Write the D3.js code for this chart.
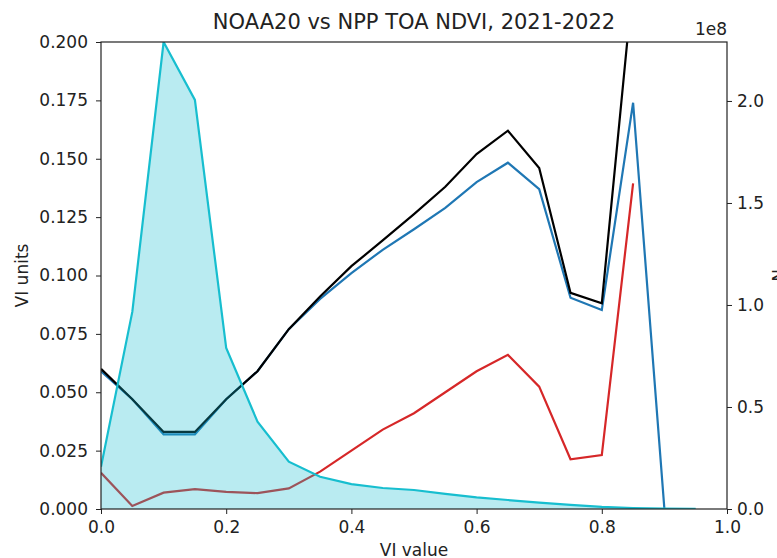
<!DOCTYPE html>
<html lang="en">
<head>
  <meta charset="UTF-8">
  <title>NOAA20 vs NPP TOA NDVI</title>
  <style>
    body { margin: 0; background: #fff; font-family: "DejaVu Sans", sans-serif; }
    svg { display: block; }
  </style>
  <script src="https://d3js.org/d3.v7.min.js"></script>
</head>
<body>
  <div id="chart"></div>
  <script>
    // bin centres
    const viBins = [0, 0.05, 0.1, 0.15, 0.2, 0.25, 0.3, 0.35, 0.4, 0.45,
                    0.5, 0.55, 0.6, 0.65, 0.7, 0.75, 0.8, 0.85, 0.9, 0.95];
    // left axis series (VI units)
    const blueVals  = [0.059, 0.047, 0.032, 0.032, 0.047, 0.059, 0.077, 0.090, 0.101, 0.111,
                       0.1198, 0.129, 0.140, 0.1483, 0.137, 0.0905, 0.0852, 0.174, 0.0];
    const blackVals = [0.060, 0.047, 0.033, 0.033, 0.047, 0.059, 0.077, 0.091, 0.104, 0.115,
                       0.1263, 0.138, 0.152, 0.162, 0.146, 0.0926, 0.0881, 0.226];
    const redVals   = [0.0155, 0.0013, 0.007, 0.0085, 0.0073, 0.0068, 0.0088, 0.016, 0.025, 0.034,
                       0.041, 0.050, 0.059, 0.066, 0.0524, 0.0213, 0.0231, 0.1395];
    // right axis: counts (x1e8)
    const countVals = [0.207, 0.966, 2.289, 2.005, 0.789, 0.428, 0.232, 0.158, 0.122, 0.103,
                       0.093, 0.074, 0.057, 0.044, 0.031, 0.02, 0.01, 0.005, 0.002, 0.001];

    const xTicks = [0, 0.2, 0.4, 0.6, 0.8, 1.0];
    const yTicks = [0, 0.025, 0.05, 0.075, 0.1, 0.125, 0.15, 0.175, 0.2];
    const y2Ticks = [0, 0.5, 1.0, 1.5, 2.0];

    const width = 777, height = 558;
    const margin = {top: 42, right: 50, bottom: 49, left: 101};
    const fs = 17;

    const x = d3.scaleLinear().domain([0, 1]).range([margin.left, width - margin.right]);
    const y = d3.scaleLinear().domain([0, 0.2]).range([height - margin.bottom, margin.top]);
    const y2 = d3.scaleLinear().domain([0, 2.289]).range([height - margin.bottom, margin.top]);

    const svg = d3.select("#chart").append("svg")
        .attr("width", width)
        .attr("height", height)
        .style("font-family", "'DejaVu Sans', sans-serif");

    svg.append("defs").append("clipPath").attr("id", "clip")
      .append("rect")
        .attr("x", margin.left).attr("y", margin.top)
        .attr("width", width - margin.left - margin.right)
        .attr("height", height - margin.top - margin.bottom);

    const plot = svg.append("g").attr("clip-path", "url(#clip)");

    const seriesLine = (vals, ys) => d3.line()
        .x((d, i) => x(viBins[i]))
        .y(d => ys(d))(vals);

    plot.append("path").attr("d", seriesLine(blueVals, y))
        .attr("fill", "none").attr("stroke", "#1f77b4").attr("stroke-width", 2.2);
    plot.append("path").attr("d", seriesLine(blackVals, y))
        .attr("fill", "none").attr("stroke", "#000").attr("stroke-width", 2.2);
    plot.append("path").attr("d", seriesLine(redVals, y))
        .attr("fill", "none").attr("stroke", "#d62728").attr("stroke-width", 2.2);

    const area = d3.area()
        .x((d, i) => x(viBins[i]))
        .y0(y2(0))
        .y1(d => y2(d));
    plot.append("path").attr("d", area(countVals))
        .attr("fill", "#17becf").attr("fill-opacity", 0.3);
    plot.append("path").attr("d", seriesLine(countVals, y2))
        .attr("fill", "none").attr("stroke", "#17becf").attr("stroke-width", 2.2);

    const tickSize = 5;
    const fmt3 = d3.format(".3f"), fmt1 = d3.format(".1f");

    const xAxis = svg.append("g")
        .attr("transform", `translate(0,${height - margin.bottom})`)
        .call(d3.axisBottom(x).tickValues(xTicks).tickFormat(fmt1).tickSize(tickSize).tickPadding(7));
    const yAxis = svg.append("g")
        .attr("transform", `translate(${margin.left},0)`)
        .call(d3.axisLeft(y).tickValues(yTicks).tickFormat(fmt3).tickSize(tickSize).tickPadding(8));
    const y2Axis = svg.append("g")
        .attr("transform", `translate(${width - margin.right},0)`)
        .call(d3.axisRight(y2).tickValues(y2Ticks).tickFormat(fmt1).tickSize(tickSize).tickPadding(5));

    [xAxis, yAxis, y2Axis].forEach(a => {
      a.select(".domain").remove();
      a.selectAll("text").attr("font-size", fs).attr("fill", "#222")
          .style("font-family", "'DejaVu Sans', sans-serif");
      a.selectAll("line").attr("stroke", "#222").attr("stroke-width", 1);
    });

    // frame
    svg.append("rect")
        .attr("x", margin.left).attr("y", margin.top)
        .attr("width", width - margin.left - margin.right)
        .attr("height", height - margin.top - margin.bottom)
        .attr("fill", "none").attr("stroke", "#222").attr("stroke-width", 1.2);

    svg.append("text")
        .attr("x", (margin.left + width - margin.right) / 2)
        .attr("y", 29)
        .attr("text-anchor", "middle")
        .attr("font-size", 21)
        .attr("fill", "#222")
        .text("NOAA20 vs NPP TOA NDVI, 2021-2022");

    svg.append("text")
        .attr("x", (margin.left + width - margin.right) / 2)
        .attr("y", 556)
        .attr("text-anchor", "middle")
        .attr("font-size", fs)
        .attr("fill", "#222")
        .text("VI value");

    svg.append("text")
        .attr("transform", `translate(28,${(margin.top + height - margin.bottom) / 2}) rotate(-90)`)
        .attr("text-anchor", "middle")
        .attr("font-size", fs)
        .attr("fill", "#222")
        .text("VI units");

    svg.append("text")
        .attr("transform", `translate(785,${(margin.top + height - margin.bottom) / 2}) rotate(-90)`)
        .attr("text-anchor", "middle")
        .attr("font-size", fs)
        .attr("fill", "#222")
        .text("N");

    svg.append("text")
        .attr("x", width - margin.right)
        .attr("y", 35)
        .attr("text-anchor", "end")
        .attr("font-size", fs)
        .attr("fill", "#222")
        .text("1e8");
  </script>
</body>
</html>
